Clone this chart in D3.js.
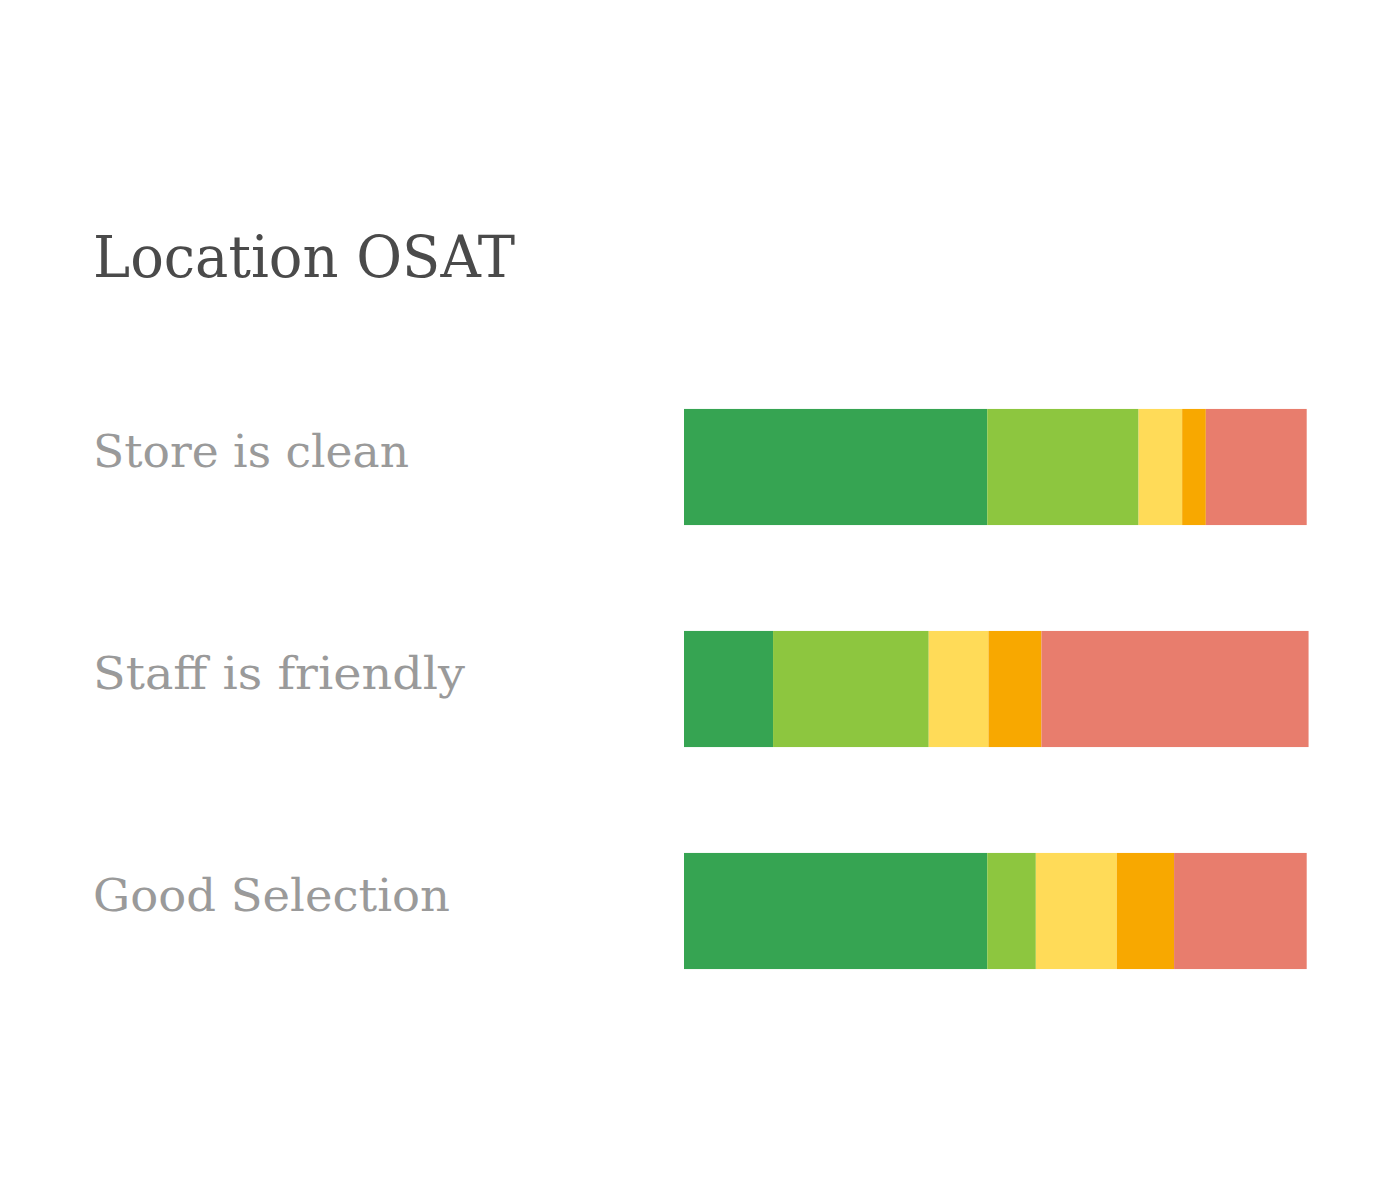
<!DOCTYPE html>
<html>
<head>
<meta charset="utf-8">
<script src="https://cdn.jsdelivr.net/npm/d3@7"></script>
<style>
  html, body { margin: 0; padding: 0; background: #ffffff; }
  svg { display: block; }
</style>
</head>
<body>
<div id="chart"></div>
<script>
// ---- data ----
const title = "Location OSAT";
const categories = ["Store is clean", "Staff is friendly", "Good Selection"];
const seriesNames = ["Very satisfied", "Satisfied", "Neutral", "Dissatisfied", "Very dissatisfied"];
const verySatisfied    = [48.7, 14.3, 48.7];
const satisfied        = [24.3, 25.0, 7.8];
const neutral          = [7.0,  9.6,  13.0];
const dissatisfied     = [3.8,  8.5,  9.2];
const veryDissatisfied = [16.2, 42.9, 21.3];
const seriesColors = ["#36a452", "#8dc63f", "#ffdb58", "#f8a800", "#e87d6d"];

// ---- layout ----
const W = 1400, H = 1200;
const svg = d3.select("#chart").append("svg").attr("width", W).attr("height", H);

const rows = categories.map((c, i) => ({
  category: c,
  "Very satisfied": verySatisfied[i],
  "Satisfied": satisfied[i],
  "Neutral": neutral[i],
  "Dissatisfied": dissatisfied[i],
  "Very dissatisfied": veryDissatisfied[i]
}));

const stacked = d3.stack().keys(seriesNames)(rows);

const x = d3.scaleLinear().domain([0, 100]).range([684, 1306.7]);
const y = d3.scaleBand().domain(categories).range([356, 1022]).paddingInner(0.477).paddingOuter(0.2385);
const color = d3.scaleOrdinal().domain(seriesNames).range(seriesColors);

svg.append("text")
  .attr("x", 93).attr("y", 277)
  .attr("font-family", "'DejaVu Serif', serif")
  .attr("font-size", 58)
  .attr("fill", "#4a4a4a")
  .attr("textLength", 422)
  .attr("lengthAdjust", "spacingAndGlyphs")
  .text(title);

svg.append("g").selectAll("g")
  .data(stacked)
  .join("g")
  .attr("fill", d => color(d.key))
  .selectAll("rect")
  .data(d => d)
  .join("rect")
  .attr("x", d => x(d[0]))
  .attr("width", d => x(d[1]) - x(d[0]))
  .attr("y", d => y(d.data.category))
  .attr("height", y.bandwidth());

const labelWidths = { "Store is clean": 316, "Staff is friendly": 372, "Good Selection": 357 };
svg.append("g").selectAll("text")
  .data(categories)
  .join("text")
  .attr("x", 93)
  .attr("y", d => y(d) + y.bandwidth() / 2)
  .attr("font-family", "'DejaVu Serif', serif")
  .attr("font-size", 45)
  .attr("fill", "#9a9a9a")
  .attr("textLength", d => labelWidths[d])
  .attr("lengthAdjust", "spacingAndGlyphs")
  .text(d => d);
</script>
</body>
</html>
